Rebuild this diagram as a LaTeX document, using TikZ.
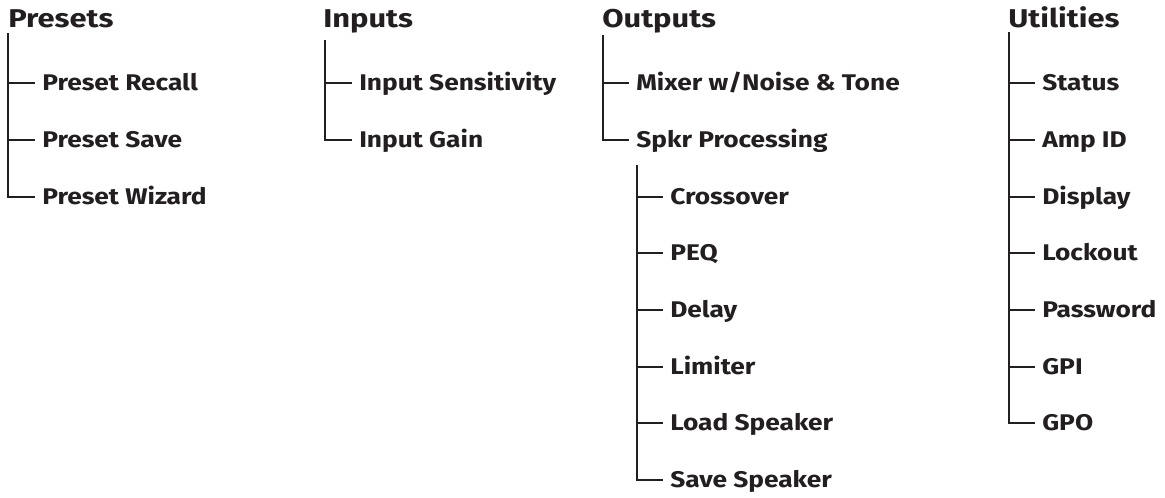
\documentclass[tikz,border=0pt]{standalone}
\usepackage{fontspec}
\setmainfont{Fira Sans}
\newfontfamily\itemfont[FakeStretch=1.16]{Fira Sans}
\newfontfamily\headfont[FakeStretch=1.2]{Fira Sans}
\definecolor{ink}{HTML}{231F20}
\begin{document}
\begin{tikzpicture}[x=0.75pt,y=-0.75pt,
  head/.style={font=\headfont\bfseries\fontsize{19.3}{21}\selectfont, inner sep=0pt, anchor=base west, text=ink},
  item/.style={font=\itemfont\bfseries\fontsize{17}{19}\selectfont, inner sep=0pt, text height=11.8pt, text depth=0pt, anchor=west, text=ink},
  branch/.style={draw=ink, line width=1.5pt}]
\useasboundingbox (0,0) rectangle (1165,497);
% Presets
\node[head] (presets) at (8,27) {Presets};
\coordinate (presets-t) at (8,33);
\node[item] (p1) at (42,83) {Preset Recall};
\node[item] (p2) at (42,140) {Preset Save};
\node[item] (p3) at (42,197) {Preset Wizard};
\foreach \c in {p1,p2,p3} \draw[branch] (presets-t) |- ([xshift=-5.25pt]\c.west);
% Inputs
\node[head] (inputs) at (323,27) {Inputs};
\coordinate (inputs-t) at (325,40);
\node[item] (i1) at (359,83) {Input Sensitivity};
\node[item] (i2) at (359,140) {Input Gain};
\foreach \c in {i1,i2} \draw[branch] (inputs-t) |- ([xshift=-5.25pt]\c.west);
% Outputs
\node[head] (outputs) at (602,27) {Outputs};
\coordinate (outputs-t) at (603,35);
\node[item] (o1) at (636,83) {Mixer w/Noise \& Tone};
\node[item] (o2) at (636,140) {Spkr Processing};
\foreach \c in {o1,o2} \draw[branch] (outputs-t) |- ([xshift=-5.25pt]\c.west);
% Speaker processing
\coordinate (spkr-t) at (637,165);
\node[item] (s1) at (670,197) {Crossover};
\node[item] (s2) at (670,253) {PEQ};
\node[item] (s3) at (670,310) {Delay};
\node[item] (s4) at (670,367) {Limiter};
\node[item] (s5) at (670,423) {Load Speaker};
\node[item] (s6) at (670,480) {Save Speaker};
\foreach \c in {s1,s2,s3,s4,s5,s6} \draw[branch] (spkr-t) |- ([xshift=-5.25pt]\c.west);
% Utilities
\node[head] (utilities) at (1008,27) {Utilities};
\coordinate (utilities-t) at (1009,32);
\node[item] (u1) at (1042,83) {Status};
\node[item] (u2) at (1042,140) {Amp ID};
\node[item] (u3) at (1042,197) {Display};
\node[item] (u4) at (1042,253) {Lockout};
\node[item] (u5) at (1042,310) {Password};
\node[item] (u6) at (1042,367) {GPI};
\node[item] (u7) at (1042,423) {GPO};
\foreach \c in {u1,u2,u3,u4,u5,u6,u7} \draw[branch] (utilities-t) |- ([xshift=-5.25pt]\c.west);
\end{tikzpicture}
\end{document}
